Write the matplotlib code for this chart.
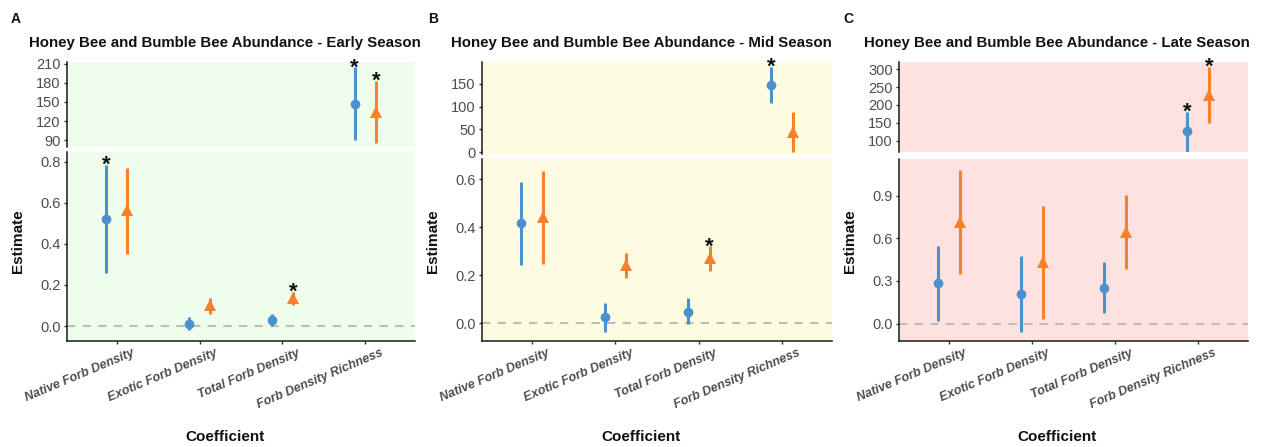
import matplotlib
matplotlib.use("Agg")
import matplotlib.pyplot as plt
import matplotlib.transforms as mtransforms

plt.rcParams["font.family"] = ["Liberation Sans", "DejaVu Sans"]

# ---------------- data ----------------
categories = ["Native Forb Density", "Exotic Forb Density",
              "Total Forb Density", "Forb Density Richness"]

# Early season
early_honey_est = [0.519, 0.012, 0.028, 147]
early_honey_lo = [0.259, -0.02, 0.0, 90]
early_honey_hi = [0.784, 0.046, 0.06, 204]
early_honey_sig = [True, False, False, True]
early_bumble_est = [0.565, 0.101, 0.134, 134]
early_bumble_lo = [0.35, 0.06, 0.10, 85]
early_bumble_hi = [0.768, 0.134, 0.166, 183]
early_bumble_sig = [False, False, True, True]

# Mid season
mid_honey_est = [0.416, 0.025, 0.046, 148]
mid_honey_lo = [0.24, -0.038, -0.003, 109]
mid_honey_hi = [0.59, 0.084, 0.106, 188]
mid_honey_sig = [False, False, False, True]
mid_bumble_est = [0.443, 0.24, 0.27, 45]
mid_bumble_lo = [0.248, 0.186, 0.218, 1]
mid_bumble_hi = [0.635, 0.293, 0.32, 89]
mid_bumble_sig = [False, False, True, False]

# Late season
late_honey_est = [0.283, 0.207, 0.252, 127]
late_honey_lo = [0.018, -0.06, 0.071, 60]
late_honey_hi = [0.547, 0.476, 0.436, 180]
late_honey_sig = [False, False, False, True]
late_bumble_est = [0.719, 0.436, 0.648, 229]
late_bumble_lo = [0.347, 0.035, 0.382, 149]
late_bumble_hi = [1.084, 0.826, 0.908, 306]
late_bumble_sig = [False, False, False, True]

titles = ["Honey Bee and Bumble Bee Abundance - Early Season",
          "Honey Bee and Bumble Bee Abundance - Mid Season",
          "Honey Bee and Bumble Bee Abundance - Late Season"]
panel_letters = ["A", "B", "C"]

top_ticks = [[90, 120, 150, 180, 210], [0, 50, 100, 150],
             [100, 150, 200, 250, 300]]
bottom_ticks = [[0.0, 0.2, 0.4, 0.6, 0.8], [0.0, 0.2, 0.4, 0.6],
                [0.0, 0.3, 0.6, 0.9]]
top_ylims = [(79.5, 212.5), (-4, 198), (68, 320)]
bottom_ylims = [(-0.073, 0.847), (-0.075, 0.684), (-0.123, 1.16)]
backgrounds = ["#EFFDEC", "#FDFCE0", "#FDE2DF"]

HONEY = "#4B91CD"
BUMBLE = "#F5822A"

seasons = [
    (early_honey_est, early_honey_lo, early_honey_hi, early_honey_sig,
     early_bumble_est, early_bumble_lo, early_bumble_hi, early_bumble_sig),
    (mid_honey_est, mid_honey_lo, mid_honey_hi, mid_honey_sig,
     mid_bumble_est, mid_bumble_lo, mid_bumble_hi, mid_bumble_sig),
    (late_honey_est, late_honey_lo, late_honey_hi, late_honey_sig,
     late_bumble_est, late_bumble_lo, late_bumble_hi, late_bumble_sig),
]

# ---------------- layout (pixel boxes) ----------------
W, H = 1261, 447
fig = plt.figure(figsize=(W / 100, H / 100), dpi=100)


def box(l, r, t, b):
    return [l / W, 1 - b / H, (r - l) / W, (b - t) / H]


panel_x = [(67, 415), (482, 832), (899, 1248)]
top_y = [(62, 147), (62, 154), (62, 152)]
bot_y = [(152, 341), (159, 341), (159, 341)]
title_x = [225, 641, 1057]
letter_x = [16, 433, 848]
ylabel_x = [18, 433, 850]

DODGE = 0.13
positions = list(range(1, len(categories) + 1))


def style_axis(ax, bg):
    ax.set_facecolor(bg)
    for s in ("top", "right"):
        ax.spines[s].set_visible(False)
    for s in ("left", "bottom"):
        ax.spines[s].set_color("#1A1A1A")
        ax.spines[s].set_linewidth(1.1)
    ax.tick_params(axis="both", direction="out", length=2.5, width=1.0,
                   color="#333333", labelcolor="#4D4D4D", labelsize=10.5,
                   pad=2)
    ax.set_xlim(0.4, 4.6)


def draw_series(ax, idx, est, lo, hi, sig, offset, color, marker, msize):
    for i in idx:
        x = positions[i] + offset
        ax.plot([x, x], [lo[i], hi[i]], color=color, lw=2.2,
                solid_capstyle="butt", zorder=3)
        ax.plot([x], [est[i]], marker=marker, color=color, ms=msize,
                mew=0, zorder=4)
        if sig[i]:
            ax.annotate("*", xy=(x, hi[i]), xytext=(0, -6),
                        textcoords="offset pixels", ha="center",
                        va="baseline", fontsize=16, fontweight="bold",
                        color="#111111", zorder=5)


for p in range(3):
    (h_est, h_lo, h_hi, h_sig, b_est, b_lo, b_hi, b_sig) = seasons[p]
    l, r = panel_x[p]

    ax_top = fig.add_axes(box(l, r, *top_y[p]))
    ax_bot = fig.add_axes(box(l, r, *bot_y[p]))
    style_axis(ax_top, backgrounds[p])
    style_axis(ax_bot, backgrounds[p])

    # upper part: richness coefficient on its own scale
    ax_top.spines["bottom"].set_visible(False)
    ax_top.set_xticks([])
    ax_top.set_ylim(*top_ylims[p])
    ax_top.set_yticks(top_ticks[p])
    ax_top.set_yticklabels([str(t) for t in top_ticks[p]])
    draw_series(ax_top, [3], h_est, h_lo, h_hi, h_sig, -DODGE, HONEY, "o", 7)
    draw_series(ax_top, [3], b_est, b_lo, b_hi, b_sig, DODGE, BUMBLE, "^", 8.5)

    # lower part: density coefficients
    ax_bot.set_ylim(*bottom_ylims[p])
    ax_bot.set_yticks(bottom_ticks[p])
    ax_bot.set_yticklabels([f"{t:.1f}" for t in bottom_ticks[p]])
    ax_bot.axhline(0, color="#BDBDBD", lw=1.5, ls=(0, (4, 3.5)), zorder=1)
    draw_series(ax_bot, [0, 1, 2, 3], h_est, h_lo, h_hi, h_sig, -DODGE,
                HONEY, "o", 7)
    draw_series(ax_bot, [0, 1, 2, 3], b_est, b_lo, b_hi, b_sig, DODGE,
                BUMBLE, "^", 8.5)
    ax_bot.set_xticks(positions)
    ax_bot.set_xticklabels(categories, rotation=23, ha="right",
                           rotation_mode="anchor", fontsize=9,
                           fontweight="bold", fontstyle="italic",
                           color="#4D4D4D")
    shift = mtransforms.ScaledTranslation(15 / 100, 0 / 100,
                                          fig.dpi_scale_trans)
    for lab in ax_bot.get_xticklabels():
        lab.set_transform(lab.get_transform() + shift)

    fig.text(title_x[p] / W, 1 - 43 / H, titles[p], ha="center",
             va="center", fontsize=10.8, fontweight="bold", color="#111111")
    fig.text(letter_x[p] / W, 1 - 19 / H, panel_letters[p], ha="center",
             va="center", fontsize=10, fontweight="bold", color="#111111")
    fig.text(ylabel_x[p] / W, 1 - 241 / H, "Estimate", ha="center",
             va="center", rotation=90, fontsize=11, fontweight="bold",
             color="#111111")
    fig.text(title_x[p] / W, 1 - 437 / H, "Coefficient", ha="center",
             va="center", fontsize=11, fontweight="bold", color="#111111")

fig.savefig("out.png", dpi=100, facecolor="white")
